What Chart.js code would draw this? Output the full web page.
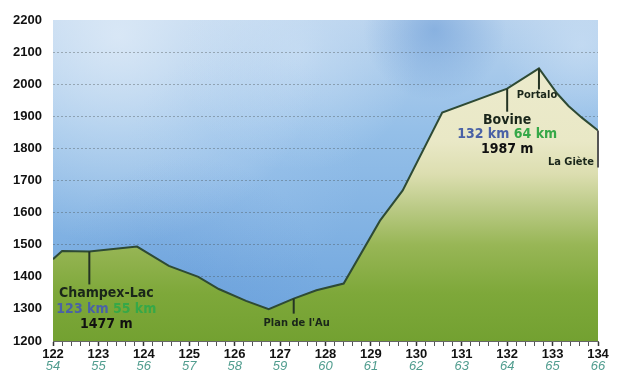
<!DOCTYPE html>
<html><head><meta charset="utf-8">
<script src="https://cdn.jsdelivr.net/npm/chart.js@4.4.0/dist/chart.umd.min.js"></script>
<style>html,body{margin:0;padding:0;background:#fff;}#wrap{width:617px;height:381px;position:relative;}</style>
</head><body><div id="wrap"><canvas id="c" width="617" height="381"></canvas></div>
<script>
// ---- data ----
const profileKm  = [122.0, 122.2, 122.8, 123.85, 124.55, 125.2, 125.65, 126.25, 126.75, 127.3, 127.8, 128.4, 129.2, 129.7, 130.57, 132.0, 132.7, 133.1, 133.35, 133.65, 134.0];
const profileAlt = [1455, 1480, 1479, 1494, 1434, 1400, 1362, 1325, 1299, 1332, 1358, 1379, 1575, 1669, 1912, 1986, 2049, 1971, 1932, 1895, 1856];
const kmTicks     = [122,123,124,125,126,127,128,129,130,131,132,133,134];
const kmFromStart = [54,55,56,57,58,59,60,61,62,63,64,65,66];
const altTicks    = [1200,1300,1400,1500,1600,1700,1800,1900,2000,2100,2200];
const minorPerKm  = 5;
const placeNames = ['Champex-Lac', "Plan de l'Au", 'Bovine', 'Portalo', 'La Giète'];
const placeKm    = [122.8, 127.3, 132.0, 132.7, 134.0];
const placeKmA   = [123, null, 132, null, null];
const placeKmB   = [55, null, 64, null, null];
const placeAlt   = [1477, null, 1987, null, null];

// ---- styles ----
const markStyle = [
  {len:33, dx:17, dy:[46,62,77], align:'center', big:true, color:'#243424'},
  {len:15, dx:3,  dy:[27],       align:'center', color:'#243424'},
  {len:23, dx:0,  dy:[35,49,64], align:'center', big:true, color:'#243424'},
  {len:21, dx:-2, dy:[30],       align:'center', color:'#243424'},
  {len:37, dx:-4, dy:[35],       align:'right',  color:'#555555'}
];

function altAt(km){
  for(let i=0;i<profileKm.length-1;i++){
    if(km>=profileKm[i] && km<=profileKm[i+1]){
      const t=(km-profileKm[i])/(profileKm[i+1]-profileKm[i]);
      return profileAlt[i]+t*(profileAlt[i+1]-profileAlt[i]);
    }
  }
  return profileAlt[profileAlt.length-1];
}
function isWhole(v){return Math.abs(v-Math.round(v))<1e-6;}

const skyPlugin = {
  id:'sky',
  beforeDraw(chart){
    const {ctx, chartArea:a} = chart;
    ctx.save();
    ctx.beginPath(); ctx.rect(a.left,a.top,a.width,a.height); ctx.clip();
    const g = ctx.createLinearGradient(0,a.top,0,a.bottom);
    g.addColorStop(0,'#b6d1ed'); g.addColorStop(0.35,'#94bfe8'); g.addColorStop(1,'#6ca3dd');
    ctx.fillStyle=g; ctx.fillRect(a.left,a.top,a.width,a.height);
    const blobs = [
      [0.12,0.05,0.38,'rgba(226,237,248,0.8)'],
      [0.45,0.10,0.22,'rgba(210,228,246,0.55)'],
      [0.70,0.03,0.13,'rgba(85,140,208,0.45)'],
      [0.97,0.08,0.15,'rgba(210,228,246,0.55)'],
      [0.35,0.45,0.22,'rgba(170,204,240,0.3)'],
      [0.25,0.85,0.25,'rgba(95,150,215,0.3)']
    ];
    for(const [fx,fy,fr,col] of blobs){
      const cx=a.left+fx*a.width, cy=a.top+fy*a.height, r=fr*a.width;
      const rg=ctx.createRadialGradient(cx,cy,0,cx,cy,r);
      rg.addColorStop(0,col); rg.addColorStop(1,col.replace(/[\d.]+\)$/,'0)'));
      ctx.fillStyle=rg; ctx.fillRect(a.left,a.top,a.width,a.height);
    }
    ctx.restore();
  }
};

const placePlugin = {
  id:'places',
  afterDraw(chart){
    const {ctx} = chart;
    const xs=chart.scales.x, ys=chart.scales.y;
    ctx.save();
    placeNames.forEach((name,i)=>{
      const st=markStyle[i];
      const x=xs.getPixelForValue(placeKm[i]);
      const yTop=ys.getPixelForValue(altAt(placeKm[i]));
      ctx.strokeStyle=st.color; ctx.lineWidth=2;
      ctx.beginPath(); ctx.moveTo(x,yTop); ctx.lineTo(x,yTop+st.len); ctx.stroke();
      const cx=x+st.dx;
      const lines=[[ [name, '#1a261a'] ]];
      if(placeKmA[i]!=null) lines.push([[placeKmA[i]+' km','#4a62a6'],[' ','#000'],[placeKmB[i]+' km','#36a848']]);
      if(placeAlt[i]!=null) lines.push([[placeAlt[i]+' m','#111']]);
      ctx.textBaseline='alphabetic';
      ctx.font = st.big ? 'bold 14px "DejaVu Sans Condensed", "DejaVu Sans", sans-serif' : 'bold 11px "DejaVu Sans Condensed", "DejaVu Sans", sans-serif';
      lines.forEach((parts,li)=>{
        const y=yTop+st.dy[li];
        const total=parts.reduce((s,p)=>s+ctx.measureText(p[0]).width,0);
        let sx = st.align==='right' ? cx-total : cx-total/2;
        ctx.textAlign='left';
        parts.forEach(p=>{ctx.fillStyle=p[1]; ctx.fillText(p[0],sx,y); sx+=ctx.measureText(p[0]).width;});
      });
    });
    ctx.restore();
  }
};

const ctxC = document.getElementById('c').getContext('2d');
new Chart(ctxC, {
  type:'line',
  data:{
    datasets:[{
      data: profileKm.map((k,i)=>({x:k,y:profileAlt[i]})),
      borderColor:'#2e4a34', borderWidth:2, pointRadius:0, tension:0,
      fill:'start',
      backgroundColor:(c)=>{
        const a=c.chart.chartArea; if(!a) return '#8aad4a';
        const g=c.chart.ctx.createLinearGradient(0,a.bottom,0,a.top);
        g.addColorStop(0,'#73a131');
        g.addColorStop(0.15,'#7ea83a');
        g.addColorStop(0.3,'#98b656');
        g.addColorStop(0.42,'#bccb88');
        g.addColorStop(0.52,'#dcdeb0');
        g.addColorStop(0.62,'#e9e8c6');
        g.addColorStop(1,'#eeecd0');
        return g;
      }
    }]
  },
  options:{
    responsive:false, animation:false,
    layout:{padding:{top:20,right:19,bottom:0,left:0}},
    plugins:{legend:{display:false}, tooltip:{enabled:false}},
    scales:{
      x:{type:'linear', position:'bottom', min:kmTicks[0], max:kmTicks[kmTicks.length-1], weight:0,
        afterFit:(s)=>{s.height=18;},
        afterBuildTicks:(s)=>{
          const t=[];
          kmTicks.forEach((k,i)=>{
            t.push({value:k});
            if(i<kmTicks.length-1) for(let j=1;j<minorPerKm;j++) t.push({value:k+j/minorPerKm});
          });
          s.ticks=t;
        },
        ticks:{autoSkip:false, maxTicksLimit:1000, maxRotation:0, minRotation:0, padding:1,
          color:'#111', font:{family:'"Liberation Sans", Arial, sans-serif', size:13, weight:'bold'},
          callback:(v)=> isWhole(v) ? String(Math.round(v)) : ''},
        grid:{drawOnChartArea:false, drawTicks:true, tickLength:5,
          tickColor:(c)=> (c.tick && isWhole(c.tick.value)) ? '#333' : '#555',
          tickWidth:(c)=> (c.tick && isWhole(c.tick.value)) ? 1.5 : 1},
        border:{display:true, color:'#666', width:1}
      },
      x2:{type:'linear', position:'bottom', min:kmTicks[0], max:kmTicks[kmTicks.length-1], weight:1,
        afterFit:(s)=>{s.height=22;},
        afterBuildTicks:(s)=>{s.ticks=kmTicks.map(v=>({value:v}));},
        ticks:{autoSkip:false, maxRotation:0, minRotation:0, padding:0,
          color:'#519d8f', font:{family:'"Liberation Sans", Arial, sans-serif', size:13, style:'italic'},
          callback:(v)=>{const idx=kmTicks.indexOf(Math.round(v)); return idx>=0?String(kmFromStart[idx]):'';}},
        grid:{display:false, drawTicks:false}, border:{display:false}
      },
      y:{min:altTicks[0], max:altTicks[altTicks.length-1], z:1,
        afterFit:(s)=>{s.width=53;},
        afterBuildTicks:(s)=>{s.ticks=altTicks.map(v=>({value:v}));},
        ticks:{padding:11, color:'#111', font:{family:'"Liberation Sans", Arial, sans-serif', size:13, weight:'bold'},
          callback:(v)=>String(v)},
        grid:{drawTicks:false, lineWidth:1,
          color:(c)=>(c.tick && (c.tick.value===altTicks[0]||c.tick.value===altTicks[altTicks.length-1]))?'rgba(0,0,0,0)':'rgba(70,80,80,0.38)'},
        border:{display:false, dash:[2,2]}
      }
    }
  },
  plugins:[skyPlugin, placePlugin]
});
</script></body></html>
